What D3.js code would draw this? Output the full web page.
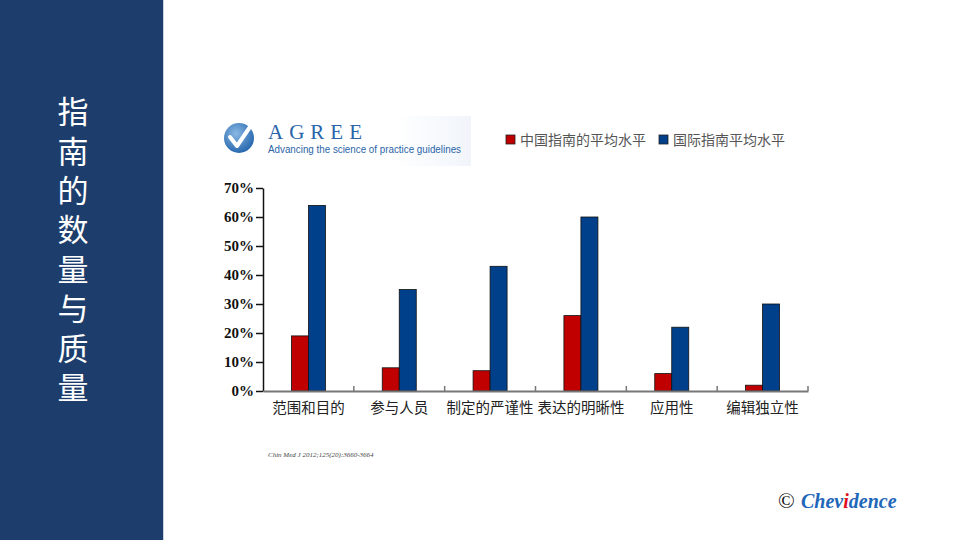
<!DOCTYPE html>
<html><head><meta charset="utf-8">
<script src="https://cdn.jsdelivr.net/npm/d3@7"></script>
<style>body{margin:0;background:#fff}svg{display:block}</style>
</head><body>
<script>
const categories = ["范围和目的","参与人员","制定的严谨性","表达的明晰性","应用性","编辑独立性"];
const chinaValues = [19, 8, 7, 26, 6, 2];
const intlValues = [64, 35, 43, 60, 22, 30];
const seriesNames = ["中国指南的平均水平","国际指南平均水平"];
const yTicks = [0,10,20,30,40,50,60,70];
const titleText = "指南的数量与质量";

const W=960,H=540;
const svg=d3.select("body").append("svg").attr("width",W).attr("height",H);
svg.append("rect").attr("width",W).attr("height",H).attr("fill","#fff");

// left panel
svg.append("rect").attr("x",0).attr("y",0).attr("width",163).attr("height",H).attr("fill","#1d3e6c");
svg.append("line").attr("x1",163.5).attr("x2",163.5).attr("y1",0).attr("y2",H).attr("stroke","#c9d3e0").attr("stroke-width",1);
svg.append("text").attr("x",73).attr("y",96)
  .style("writing-mode","vertical-rl").attr("letter-spacing",8.4)
  .attr("fill","#fff").attr("font-family","'Noto Sans CJK SC'").attr("font-size",31).text(titleText);

// AGREE logo
const defs=svg.append("defs");
const grad=defs.append("linearGradient").attr("id","lg").attr("x1","0").attr("x2","1");
grad.append("stop").attr("offset","0.7").attr("stop-color","#fff");
grad.append("stop").attr("offset","1").attr("stop-color","#f1f5fb");
const rg=defs.append("radialGradient").attr("id","rg").attr("cx","0.4").attr("cy","0.35").attr("r","0.7");
rg.append("stop").attr("offset","0").attr("stop-color","#8ab8e4");
rg.append("stop").attr("offset","1").attr("stop-color","#2163ab");
const logo=svg.append("g");
logo.append("rect").attr("x",214).attr("y",116).attr("width",257).attr("height",50).attr("fill","url(#lg)");
logo.append("circle").attr("cx",239).attr("cy",138).attr("r",15).attr("fill","url(#rg)");
logo.append("path").attr("d","M230,137 L237,146 L252,124").attr("fill","none").attr("stroke","#fff").attr("stroke-width",4).attr("stroke-linecap","round").attr("stroke-linejoin","round");
logo.append("text").attr("x",268).attr("y",139).attr("fill","#2a64a8").attr("font-family","'Liberation Serif'").attr("font-size",21).attr("letter-spacing",6).text("AGREE");
logo.append("text").attr("x",268).attr("y",153).attr("fill","#2a64a8").attr("font-family","'Liberation Sans'").attr("font-size",10.4)
  .attr("textLength",193).attr("lengthAdjust","spacingAndGlyphs").text("Advancing the science of practice guidelines");

// legend
const colors=["#c00000","#003f8a"];
const legX=[506,659];
seriesNames.forEach((n,i)=>{
  svg.append("rect").attr("x",legX[i]).attr("y",135).attr("width",9).attr("height",9).attr("fill",colors[i]).attr("stroke","#222").attr("stroke-width",0.8);
  svg.append("text").attr("x",legX[i]+14).attr("y",140).attr("dy","0.36em").attr("fill","#555")
    .attr("font-family","'Noto Sans CJK SC'").attr("font-size",14).text(n);
});

// chart
const x0=263,x1=808,yb=391,yt=188;
const x=d3.scaleBand().domain(categories).range([x0,x1]);
const y=d3.scaleLinear().domain([0,70]).range([yb,yt]);
const bw=17;
const g=svg.append("g");
categories.forEach((c,i)=>{
  const cx=x(c)+x.bandwidth()/2;
  g.append("rect").attr("x",cx-bw).attr("y",y(chinaValues[i])).attr("width",bw).attr("height",yb-y(chinaValues[i]))
   .attr("fill",colors[0]).attr("stroke","#111").attr("stroke-width",0.8);
  g.append("rect").attr("x",cx).attr("y",y(intlValues[i])).attr("width",bw).attr("height",yb-y(intlValues[i]))
   .attr("fill",colors[1]).attr("stroke","#111").attr("stroke-width",0.8);
});

// y axis
const ya=svg.append("g").attr("transform",`translate(${x0},0)`)
  .call(d3.axisLeft(y).tickValues(yTicks).tickFormat(d=>d+"%").tickSize(7).tickSizeOuter(0));
ya.select(".domain").attr("stroke","#111").attr("stroke-width",1.5);
ya.selectAll(".tick line").attr("stroke","#111").attr("stroke-width",1.5);
ya.selectAll(".tick text").attr("font-family","'Liberation Serif'").attr("font-weight","bold").attr("font-size",15).attr("fill","#111").attr("x",-9);

// x axis
const xa=svg.append("g").attr("transform",`translate(0,${yb})`)
  .call(d3.axisBottom(x).tickSize(0).tickSizeOuter(0));
xa.select(".domain").attr("stroke","#777").attr("stroke-width",2);
xa.selectAll(".tick text").attr("font-family","'Noto Sans CJK SC'").attr("font-size",14.5).attr("fill","#222").attr("y",12);
const bounds=categories.map(c=>x(c)).slice(1).concat([x1]);
svg.append("g").selectAll("line").data(bounds).join("line")
  .attr("x1",d=>d).attr("x2",d=>d).attr("y1",yb).attr("y2",yb-5).attr("stroke","#777").attr("stroke-width",1.5);

// citation
svg.append("text").attr("x",268).attr("y",457).attr("font-family","'Liberation Serif'").attr("font-style","italic").attr("font-size",7).attr("fill","#444").text("Chin Med J 2012;125(20):3660-3664");

// Chevidence
svg.append("text").attr("x",778).attr("y",508).attr("font-family","'Liberation Serif'").attr("font-size",22).attr("fill","#111").text("©");
const ct=svg.append("text").attr("x",801).attr("y",508).attr("font-family","'Liberation Serif'").attr("font-style","italic").attr("font-weight","bold").attr("font-size",20).attr("fill","#1f67b8");
ct.append("tspan").text("Chev");
ct.append("tspan").attr("fill","#e01020").text("i");
ct.append("tspan").text("dence");
</script>
</body></html>
